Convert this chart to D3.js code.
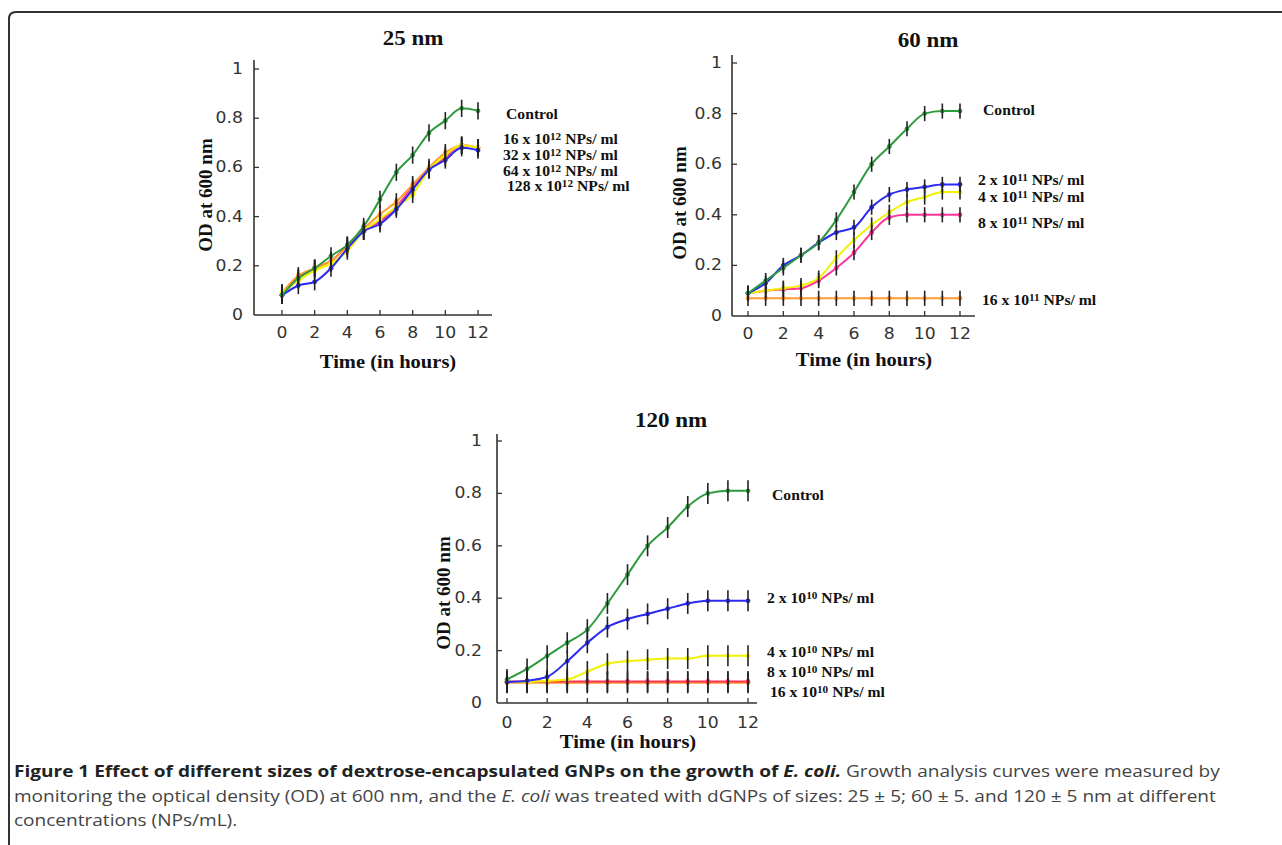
<!DOCTYPE html>
<html>
<head>
<meta charset="utf-8">
<script src="https://cdn.jsdelivr.net/npm/d3@7"></script>
<style>
  body { margin: 0; background: #fff; }
  svg { display: block; }
  .tick-lbl { font-family: "DejaVu Sans", sans-serif; font-size: 15px; fill: #333; }
  .serif { font-family: "Liberation Serif", "Times New Roman", serif; font-weight: bold; fill: #111; }
  .cap { font-family: "Open Sans", sans-serif; font-size: 16px; fill: #444; }
</style>
</head>
<body>
<div id="fig"></div>
<script>
// ---- data ----
var hours = [0, 1, 2, 3, 4, 5, 6, 7, 8, 9, 10, 11, 12];
var xTicks = [0, 2, 4, 6, 8, 10, 12];
var yTicks = [0, 0.2, 0.4, 0.6, 0.8, 1];
var yTickLabels = ["0", "0.2", "0.4", "0.6", "0.8", "1"];

var panelTitles = ["25 nm", "60 nm", "120 nm"];

// 25 nm
var nm25Labels = ["Control", "16 x 10^12 NPs/ ml", "32 x 10^12 NPs/ ml", "64 x 10^12 NPs/ ml", "128 x 10^12 NPs/ ml"];
var nm25Control = [0.08, 0.15, 0.19, 0.24, 0.285, 0.36, 0.47, 0.58, 0.65, 0.74, 0.79, 0.84, 0.83];
var nm25_16  = [0.08, 0.12, 0.135, 0.19, 0.27, 0.34, 0.37, 0.43, 0.51, 0.59, 0.63, 0.68, 0.67];
var nm25_32  = [0.09, 0.14, 0.18, 0.21, 0.26, 0.34, 0.39, 0.44, 0.49, 0.59, 0.65, 0.69, 0.68];
var nm25_64  = [0.09, 0.16, 0.19, 0.22, 0.28, 0.35, 0.41, 0.46, 0.53, 0.60, 0.66, 0.69, 0.68];
var nm25_128 = [0.08, 0.15, 0.19, 0.22, 0.28, 0.34, 0.38, 0.44, 0.52, 0.59, 0.64, 0.69, 0.68];
var nm25Err = 0.035;

// 60 nm
var nm60Labels = ["Control", "2 x 10^11 NPs/ ml", "4 x 10^11 NPs/ ml", "8 x 10^11 NPs/ ml", "16 x 10^11 NPs/ ml"];
var nm60Control = [0.09, 0.14, 0.19, 0.24, 0.29, 0.38, 0.49, 0.60, 0.67, 0.74, 0.80, 0.81, 0.81];
var nm60_2  = [0.09, 0.13, 0.20, 0.24, 0.29, 0.33, 0.35, 0.43, 0.48, 0.50, 0.51, 0.52, 0.52];
var nm60_4  = [0.09, 0.10, 0.11, 0.12, 0.15, 0.23, 0.30, 0.36, 0.41, 0.45, 0.47, 0.49, 0.49];
var nm60_8  = [0.09, 0.10, 0.105, 0.11, 0.14, 0.19, 0.25, 0.33, 0.39, 0.40, 0.40, 0.40, 0.40];
var nm60_16 = [0.07, 0.07, 0.07, 0.07, 0.07, 0.07, 0.07, 0.07, 0.07, 0.07, 0.07, 0.07, 0.07];
var nm60Err = 0.03;

// 120 nm
var nm120Labels = ["Control", "2 x 10^10 NPs/ ml", "4 x 10^10 NPs/ ml", "8 x 10^10 NPs/ ml", "16 x 10^10 NPs/ ml"];
var nm120Control = [0.09, 0.13, 0.18, 0.23, 0.28, 0.38, 0.49, 0.60, 0.67, 0.75, 0.80, 0.81, 0.81];
var nm120_2  = [0.08, 0.085, 0.10, 0.16, 0.23, 0.29, 0.32, 0.34, 0.36, 0.38, 0.39, 0.39, 0.39];
var nm120_4  = [0.08, 0.08, 0.085, 0.09, 0.12, 0.15, 0.16, 0.165, 0.17, 0.17, 0.18, 0.18, 0.18];
var nm120_8  = [0.082, 0.082, 0.082, 0.082, 0.082, 0.082, 0.082, 0.082, 0.082, 0.082, 0.082, 0.082, 0.082];
var nm120_16 = [0.077, 0.077, 0.077, 0.077, 0.077, 0.077, 0.077, 0.077, 0.077, 0.077, 0.077, 0.077, 0.077];
var nm120Err = 0.04;

// ---- styles / layout ----
var colors25  = ["#2e9a3e", "#2a2af0", "#f2f200", "#ff9a33", "#ff3399"];
var colors60  = ["#2e9a3e", "#2a2af0", "#f2f200", "#ff3399", "#ff9a33"];
var colors120 = ["#2e9a3e", "#2a2af0", "#f2f200", "#ff3355", "#ff9a33"];

var W = 1282, H = 845;
var svg = d3.select("#fig").append("svg").attr("width", W).attr("height", H);

// the source image is stretched a bit sideways; mimic on text
function place(sel, x, y, sx) {
  return sel.attr("transform", "translate(" + x + "," + y + ") scale(" + (sx || 1) + ",1)");
}

// figure frame
svg.append("path")
  .attr("d", "M9,845 L9,19 Q9,12 16,12 L1282,12")
  .attr("fill", "none").attr("stroke", "#333").attr("stroke-width", 2);

var panels = [
  { title: panelTitles[0], labels: nm25Labels, series: [nm25Control, nm25_16, nm25_32, nm25_64, nm25_128],
    colors: colors25, err: nm25Err,
    x0: 282, x1: 478, y0: 315, y1: 69, axisX: 254, axisEnd: 492, axisTop: 60,
    yLblRight: 243, xLblY: 338, titleX: 413, titleY: 45, timeX: 388, timeY: 368, odX: 212, odY: 195,
    legX: [506, 503, 503, 503, 507], legY: [114, 139, 155, 171, 186] },
  { title: panelTitles[1], labels: nm60Labels, series: [nm60Control, nm60_2, nm60_4, nm60_8, nm60_16],
    colors: colors60, err: nm60Err,
    x0: 748, x1: 960, y0: 316, y1: 63, axisX: 732, axisEnd: 975, axisTop: 55,
    yLblRight: 722, xLblY: 339, titleX: 928, titleY: 47, timeX: 864, timeY: 366, odX: 686, odY: 203,
    legX: [983, 978, 978, 978, 982], legY: [110, 180, 197, 223, 300] },
  { title: panelTitles[2], labels: nm120Labels, series: [nm120Control, nm120_2, nm120_4, nm120_8, nm120_16],
    colors: colors120, err: nm120Err,
    x0: 507, x1: 748, y0: 703, y1: 441, axisX: 497, axisEnd: 757, axisTop: 434,
    yLblRight: 482, xLblY: 728, titleX: 671, titleY: 427, timeX: 628, timeY: 748, odX: 450, odY: 593,
    legX: [772, 767, 767, 767, 770], legY: [495, 598, 652, 672, 692] }
];

panels.forEach(drawPanel);

function drawPanel(p) {
  var x = d3.scaleLinear().domain([0, 12]).range([p.x0, p.x1]);
  var y = d3.scaleLinear().domain([0, 1]).range([p.y0, p.y1]);
  var g = svg.append("g");

  // axes lines
  g.append("line").attr("x1", p.axisX).attr("x2", p.axisX).attr("y1", p.y0).attr("y2", p.axisTop)
    .attr("stroke", "#333").attr("stroke-width", 1.6);
  g.append("line").attr("x1", p.axisX).attr("x2", p.axisEnd).attr("y1", p.y0).attr("y2", p.y0)
    .attr("stroke", "#333").attr("stroke-width", 1.6);

  // y ticks (inward) + labels
  g.selectAll(".yt").data(yTicks.slice(1)).enter().append("line")
    .attr("x1", p.axisX).attr("x2", p.axisX + 5)
    .attr("y1", function(d){ return y(d); }).attr("y2", function(d){ return y(d); })
    .attr("stroke", "#333").attr("stroke-width", 1.3);
  g.selectAll(".ytl").data(yTicks).enter().append("text").attr("class", "tick-lbl")
    .attr("text-anchor", "end")
    .attr("transform", function(d){ return "translate(" + p.yLblRight + "," + (y(d) + 5) + ") scale(1.15,1)"; })
    .text(function(d, i){ return yTickLabels[i]; });

  // x ticks (inward) + labels
  g.selectAll(".xt").data(xTicks).enter().append("line")
    .attr("x1", function(d){ return x(d); }).attr("x2", function(d){ return x(d); })
    .attr("y1", p.y0).attr("y2", p.y0 - 5)
    .attr("stroke", "#333").attr("stroke-width", 1.3);
  g.selectAll(".xtl").data(xTicks).enter().append("text").attr("class", "tick-lbl")
    .attr("text-anchor", "middle")
    .attr("transform", function(d){ return "translate(" + x(d) + "," + p.xLblY + ") scale(1.15,1)"; })
    .text(function(d){ return d; });

  // titles
  place(g.append("text").attr("class", "serif"), p.titleX, p.titleY, 1.15)
    .attr("text-anchor", "middle").style("font-size", "20px").text(p.title);
  place(g.append("text").attr("class", "serif"), p.timeX, p.timeY, 1.08)
    .attr("text-anchor", "middle").style("font-size", "19px").text("Time (in hours)");
  g.append("text").attr("class", "serif")
    .attr("transform", "translate(" + p.odX + "," + p.odY + ") rotate(-90)")
    .attr("text-anchor", "middle").style("font-size", "19px").text("OD at 600 nm");

  var line = d3.line()
    .x(function(d, i){ return x(hours[i]); })
    .y(function(d){ return y(d); })
    .curve(d3.curveMonotoneX);

  // series, last legend entry drawn first
  var order = p.series.map(function(s, i){ return i; }).reverse();
  order.forEach(function(si){
    var vals = p.series[si], col = p.colors[si];
    g.append("path").datum(vals).attr("d", line)
      .attr("fill", "none").attr("stroke", col).attr("stroke-width", 2);
    g.selectAll(".pt" + si).data(vals).enter().append("circle")
      .attr("cx", function(d, i){ return x(hours[i]); })
      .attr("cy", function(d){ return y(d); })
      .attr("r", 2.4).attr("fill", col);
  });
  // error bars on top
  order.forEach(function(si){
    var vals = p.series[si];
    g.selectAll(".eb" + si).data(vals).enter().append("line")
      .attr("x1", function(d, i){ return x(hours[i]); })
      .attr("x2", function(d, i){ return x(hours[i]); })
      .attr("y1", function(d){ return y(d - p.err); })
      .attr("y2", function(d){ return y(d + p.err); })
      .attr("stroke", "#222").attr("stroke-width", 1.6);
  });

  // legend labels
  p.labels.forEach(function(lbl, i){
    var t = place(g.append("text").attr("class", "serif"), p.legX[i], p.legY[i] + 4.5, 1.12)
      .style("font-size", "14px");
    var m = lbl.match(/^(.*?)\^(\d+)(.*)$/);
    if (!m) { t.text(lbl); return; }
    t.append("tspan").text(m[1]);
    t.append("tspan").attr("dy", -4).style("font-size", "10px").text(m[2]);
    t.append("tspan").attr("dy", 4).text(m[3]);
  });
}

// caption
var cap = svg.append("g").attr("class", "cap")
  .attr("transform", "translate(14,0) scale(1.19,1)");
var l1 = cap.append("text").attr("x", 0).attr("y", 777);
l1.append("tspan").style("font-weight", "bold").style("fill", "#222")
  .text("Figure 1 Effect of different sizes of dextrose-encapsulated GNPs on the growth of ");
l1.append("tspan").style("font-weight", "bold").style("font-style", "italic").style("fill", "#222").text("E. coli.");
l1.append("tspan").text(" Growth analysis curves were measured by");
var l2 = cap.append("text").attr("x", 0).attr("y", 802);
l2.append("tspan").text("monitoring the optical density (OD) at 600 nm, and the ");
l2.append("tspan").style("font-style", "italic").text("E. coli");
l2.append("tspan").text(" was treated with dGNPs of sizes: 25 \u00b1 5; 60 \u00b1 5. and 120 \u00b1 5 nm at different");
cap.append("text").attr("x", 0).attr("y", 826).text("concentrations (NPs/mL).");
</script>
</body>
</html>
